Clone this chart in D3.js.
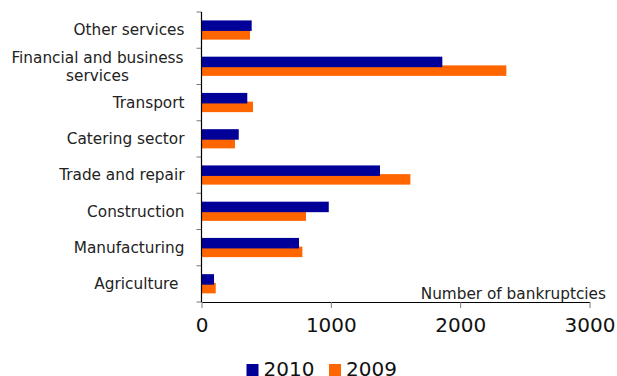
<!DOCTYPE html>
<html lang="en">
<head>
<meta charset="UTF-8">
<title>Bankruptcies by sector</title>
<script src="https://cdnjs.cloudflare.com/ajax/libs/d3/7.8.5/d3.min.js"></script>
<style>
    body { margin: 0; background: #fff; }
    svg { display: block; font-family: "DejaVu Sans", Verdana, sans-serif; }
</style>
</head>
<body>
<svg id="chart" width="617" height="376"></svg>
<script>
    // data
    const categories = ['Other services', 'Financial and business services', 'Transport', 'Catering sector',
        'Trade and repair', 'Construction', 'Manufacturing', 'Agriculture'];
    const values2010 = [388, 1862, 354, 288, 1380, 984, 754, 97];
    const values2009 = [375, 2357, 398, 259, 1615, 808, 780, 110];
    const xTicks = [0, 1000, 2000, 3000];
    const seriesNames = ['2010', '2009'];
    const colors = { '2010': '#000099', '2009': '#ff6600' };

    const svg = d3.select('#chart');
    const plotLeft = 201.5, plotRight = 589.5, plotTop = 12, plotBottom = 302;

    const x = d3.scaleLinear().domain([0, 3000]).range([plotLeft, plotRight]);
    const y = d3.scaleBand().domain(categories).range([plotTop, plotBottom]).padding(0);

    const barH = 10.5;

    // 2009 bars first, 2010 drawn on top (overlapping)
    svg.append('g').selectAll('rect')
        .data(categories.map((c, i) => ({ c, v: values2009[i] })))
        .enter().append('rect')
        .attr('x', x(0))
        .attr('y', d => y(d.c) + y.bandwidth() / 2 - 1)
        .attr('width', d => x(d.v) - x(0))
        .attr('height', barH)
        .attr('fill', colors['2009']);

    svg.append('g').selectAll('rect')
        .data(categories.map((c, i) => ({ c, v: values2010[i] })))
        .enter().append('rect')
        .attr('x', x(0))
        .attr('y', d => y(d.c) + y.bandwidth() / 2 - 9.7)
        .attr('width', d => x(d.v) - x(0))
        .attr('height', barH)
        .attr('fill', colors['2010']);

    // y axis: ticks at band boundaries
    const yEdges = categories.map(c => y(c)).concat([plotBottom]);
    svg.append('g').selectAll('line')
        .data(yEdges)
        .enter().append('line')
        .attr('x1', plotLeft - 5).attr('x2', plotLeft)
        .attr('y1', d => d).attr('y2', d => d)
        .attr('stroke', '#777').attr('stroke-width', 1);
    svg.append('line')
        .attr('x1', plotLeft).attr('x2', plotLeft)
        .attr('y1', plotTop).attr('y2', plotBottom)
        .attr('stroke', '#000').attr('stroke-width', 1.2);

    // category labels
    const labels = svg.append('g').attr('font-size', 15.3).attr('fill', '#222');
    categories.forEach(c => {
        const cy = y(c) + y.bandwidth() / 2;
        if (c === 'Financial and business services') {
            const t = labels.append('text').attr('text-anchor', 'middle');
            t.append('tspan').attr('x', 97.5).attr('y', cy - 9).attr('dy', '0.35em').text('Financial and business');
            t.append('tspan').attr('x', 97.5).attr('y', cy + 9).attr('dy', '0.35em').text('services');
        } else {
            labels.append('text')
                .attr('x', c === 'Agriculture' ? 178.5 : 184.5)
                .attr('y', cy)
                .attr('dy', '0.35em')
                .attr('text-anchor', 'end')
                .text(c);
        }
    });

    // x axis
    const xAxis = svg.append('g')
        .attr('transform', `translate(0,${plotBottom})`)
        .call(d3.axisBottom(x).tickValues(xTicks).tickFormat(d3.format('d'))
            .tickSize(6).tickSizeOuter(0).tickPadding(10));
    xAxis.select('.domain').attr('stroke', '#000').attr('stroke-width', 1.2);
    xAxis.selectAll('.tick line').attr('stroke', '#777');
    xAxis.selectAll('.tick text')
        .attr('font-size', 20).attr('fill', '#111')
        .attr('font-family', '"DejaVu Sans", Verdana, sans-serif');

    svg.append('text')
        .attr('x', 606).attr('y', 298.5)
        .attr('text-anchor', 'end')
        .attr('font-size', 15.3).attr('fill', '#222')
        .text('Number of bankruptcies');

    // legend
    const legend = svg.append('g');
    const legendX = [246.5, 329];
    seriesNames.forEach((s, i) => {
        legend.append('rect')
            .attr('x', legendX[i]).attr('y', 364)
            .attr('width', 12).attr('height', 12)
            .attr('fill', colors[s]);
        legend.append('text')
            .attr('x', legendX[i] + 17).attr('y', 375.5)
            .attr('font-size', 20).attr('fill', '#111')
            .text(s);
    });
</script>
</body>
</html>
